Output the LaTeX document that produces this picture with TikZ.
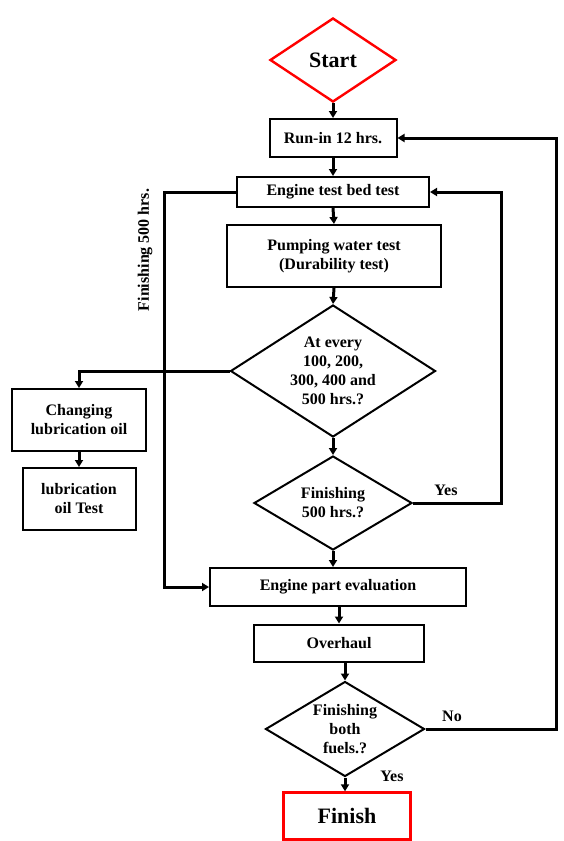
\documentclass[tikz,border=0pt]{standalone}
\usepackage{fontspec}
\setmainfont{Liberation Serif}
\usetikzlibrary{calc}
\usetikzlibrary{shapes.geometric,arrows.meta}

\tikzset{
  txt/.style={font=\bfseries\fontsize{16}{19}\selectfont, align=center},
  procbox/.style={txt, draw, line width=2pt, inner sep=0pt},
  decide/.style={txt, draw, diamond, line width=2pt, inner sep=0pt},
  redline/.style={draw=red, line width=2.4pt},
  flow/.style={line width=3pt, -{Triangle[width=8pt,length=7pt]}},
  flowline/.style={line width=3pt}
}

\begin{document}
\begin{tikzpicture}[x=1pt,y=-1pt]
\useasboundingbox (0,0) rectangle (564,841);

% Main column
\node[decide, redline, aspect=1.5, minimum width=126, minimum height=84,
      font=\bfseries\fontsize{22}{26}\selectfont] (start) at (333,60) {Start};
\node[procbox, minimum width=127, minimum height=38] (runin) at (333,138) {Run-in 12 hrs.};
\node[procbox, minimum width=192, minimum height=30] (bed) at (333,192) {Engine test bed test};
\node[procbox, minimum width=214, minimum height=62] (pump) at (334,256) {Pumping water test\\(Durability test)};
\node[decide, aspect=1.6, minimum width=205, minimum height=132] (every) at (333,371) {At every\\100, 200,\\300, 400 and\\500 hrs.?};
\node[decide, aspect=1.68, minimum width=158, minimum height=94] (fin500) at (333,503) {Finishing\\500 hrs.?};
\node[procbox, minimum width=256, minimum height=38] (eval) at (338,587) {Engine part evaluation};
\node[procbox, minimum width=170, minimum height=37] (overhaul) at (339,643) {Overhaul};
\node[decide, aspect=1.67, minimum width=159, minimum height=95] (both) at (345,729) {Finishing\\both\\fuels.?};
\node[procbox, redline, minimum width=127, minimum height=47,
      font=\bfseries\fontsize{22}{26}\selectfont] (finish) at (347,816) {Finish};

% Side branch
\node[procbox, minimum width=134, minimum height=62] (change) at (79,420) {Changing\\lubrication oil};
\node[procbox, minimum width=113, minimum height=62] (oiltest) at (79,499) {lubrication\\oil Test};

% Straight arrows
\draw[flow] (start.south) -- (runin.north);
\draw[flow] (runin.south) -- (bed.north);
\draw[flow] (bed.south) -- (pump.north);
\draw[flow] (pump.south) -- (every.north);
\draw[flow] (every.south) -- (fin500.north);
\draw[flow] (fin500.south) -- (fin500.south |- eval.north);
\draw[flow] (overhaul.north |- eval.south) -- (overhaul.north);
\draw[flow] (both.north |- overhaul.south) -- (both.north);
\draw[flow] (both.south) -- (both.south |- finish.north);
\draw[flow] (change.south) -- (oiltest.north);

% Loops
\coordinate (bypass) at (164,192);
\coordinate (yesturn) at (501,503);
\coordinate (noturn) at (556,729);
\draw[flow] (every.west) -| (change.north);
\draw[flow] (bed.west) -- (bypass) |- (eval.west);
\draw[flow] (fin500.east) -- (yesturn) |- (bed.east);
\draw[flow] (both.east) -- (noturn) |- (runin.east);

% Labels
\node[txt, rotate=90] (lbl500) at (145,250) {Finishing 500 hrs.};
\node[txt] (yes1) at (446,490) {Yes};
\node[txt] (no1) at (452,716) {No};
\node[txt] (yes2) at (392,776) {Yes};
\end{tikzpicture}
\end{document}
